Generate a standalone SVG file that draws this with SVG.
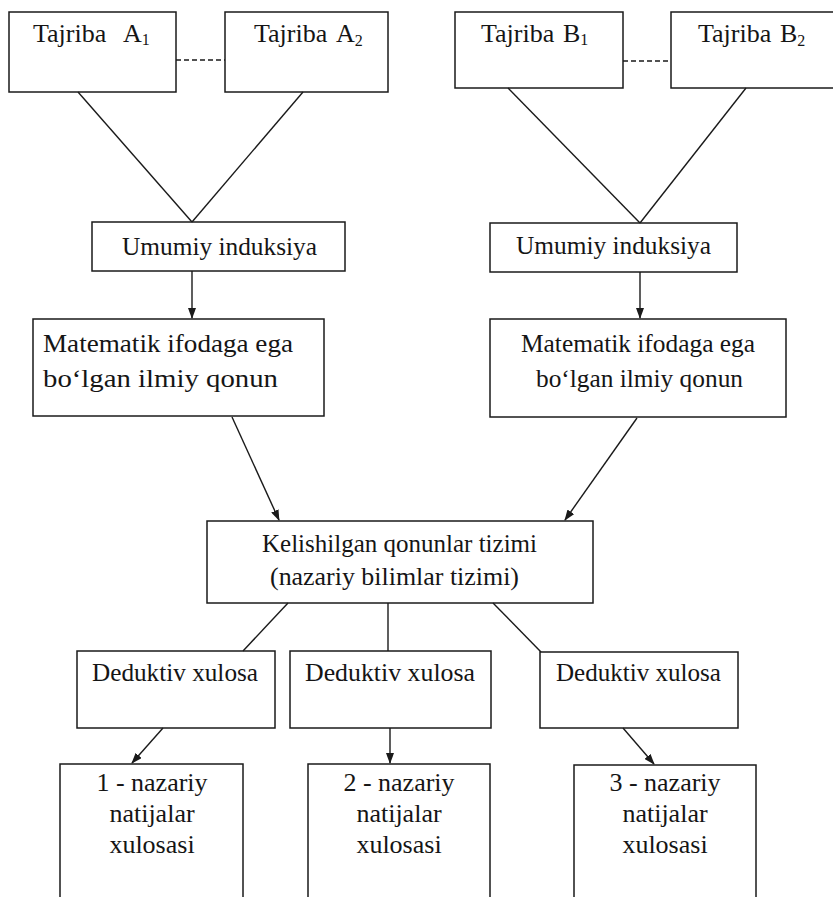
<svg xmlns="http://www.w3.org/2000/svg" width="833" height="897" viewBox="0 0 833 897">
<style>
.box{fill:none;stroke:#1a1a1a;stroke-width:1.5}
.ln{fill:none;stroke:#1a1a1a;stroke-width:1.4}
.dash{fill:none;stroke:#1a1a1a;stroke-width:1.4;stroke-dasharray:5,3}
text{font-family:"Liberation Serif","Times New Roman",serif;font-size:26px;fill:#151515}
.sub{font-size:16px}
.c{text-anchor:middle}
</style>
<defs>
<marker id="ah" markerUnits="userSpaceOnUse" markerWidth="11" markerHeight="8" refX="10" refY="4" orient="auto">
<path d="M0,0 L11,4 L0,8 Z" fill="#1a1a1a"/>
</marker>
</defs>
<rect width="833" height="897" fill="#ffffff"/>
<g id="connectors">
<line class="dash" x1="176" y1="60" x2="225" y2="60"/>
<line class="dash" x1="623" y1="61" x2="671" y2="61"/>
<line class="ln" x1="78" y1="92" x2="192" y2="222"/>
<line class="ln" x1="303" y1="92" x2="192" y2="222"/>
<line class="ln" x1="508" y1="88" x2="640" y2="223"/>
<line class="ln" x1="746" y1="88" x2="640" y2="223"/>
<line class="ln" x1="192" y1="271" x2="192" y2="318" marker-end="url(#ah)"/>
<line class="ln" x1="640" y1="272" x2="640" y2="318" marker-end="url(#ah)"/>
<line class="ln" x1="232" y1="417" x2="279" y2="520" marker-end="url(#ah)"/>
<line class="ln" x1="637" y1="418" x2="565" y2="520" marker-end="url(#ah)"/>
<line class="ln" x1="288" y1="603" x2="243" y2="651"/>
<line class="ln" x1="388" y1="603" x2="388" y2="651"/>
<line class="ln" x1="493" y1="603" x2="541" y2="652"/>
<line class="ln" x1="163" y1="728" x2="132" y2="763" marker-end="url(#ah)"/>
<line class="ln" x1="390" y1="728" x2="390" y2="763" marker-end="url(#ah)"/>
<line class="ln" x1="623" y1="728" x2="654" y2="764" marker-end="url(#ah)"/>
</g>
<g id="tajriba-a1">
<rect class="box" x="9" y="12" width="167" height="80"/>
<text x="33" y="42">Tajriba <tspan x="123">A</tspan><tspan class="sub" dy="3">1</tspan></text>
</g>
<g id="tajriba-a2">
<rect class="box" x="225" y="12" width="163" height="80"/>
<text x="254" y="42">Tajriba <tspan x="336">A</tspan><tspan class="sub" dy="4">2</tspan></text>
</g>
<g id="tajriba-b1">
<rect class="box" x="455" y="12" width="168" height="76"/>
<text x="481" y="42">Tajriba <tspan x="563">B</tspan><tspan class="sub" dy="3">1</tspan></text>
</g>
<g id="tajriba-b2">
<rect class="box" x="671" y="12" width="175" height="76"/>
<text x="698" y="42">Tajriba <tspan x="780">B</tspan><tspan class="sub" dy="4">2</tspan></text>
</g>
<g id="induksiya-left">
<rect class="box" x="92" y="222" width="253" height="49"/>
<text x="122" y="255" textLength="195" lengthAdjust="spacingAndGlyphs">Umumiy induksiya</text>
</g>
<g id="induksiya-right">
<rect class="box" x="490" y="223" width="247" height="49"/>
<text x="516" y="254" textLength="195" lengthAdjust="spacingAndGlyphs">Umumiy induksiya</text>
</g>
<g id="qonun-left">
<rect class="box" x="33" y="319" width="291" height="97"/>
<text x="43" y="352" textLength="250" lengthAdjust="spacingAndGlyphs">Matematik ifodaga ega</text>
<text x="43" y="387" textLength="235" lengthAdjust="spacingAndGlyphs">bo‘lgan ilmiy qonun</text>
</g>
<g id="qonun-right">
<rect class="box" x="490" y="319" width="296" height="98"/>
<text x="521" y="352" textLength="234" lengthAdjust="spacingAndGlyphs">Matematik ifodaga ega</text>
<text x="536" y="387" textLength="207" lengthAdjust="spacingAndGlyphs">bo‘lgan ilmiy qonun</text>
</g>
<g id="tizim">
<rect class="box" x="207" y="521" width="386" height="82"/>
<text x="262" y="552" textLength="275" lengthAdjust="spacingAndGlyphs">Kelishilgan qonunlar tizimi</text>
<text x="270" y="585" textLength="249" lengthAdjust="spacingAndGlyphs">(nazariy bilimlar tizimi)</text>
</g>
<g id="deduktiv-1">
<rect class="box" x="77" y="651" width="198" height="77"/>
<text x="92" y="681" textLength="166" lengthAdjust="spacingAndGlyphs">Deduktiv xulosa</text>
</g>
<g id="deduktiv-2">
<rect class="box" x="290" y="651" width="201" height="77"/>
<text x="305" y="681" textLength="170" lengthAdjust="spacingAndGlyphs">Deduktiv xulosa</text>
</g>
<g id="deduktiv-3">
<rect class="box" x="540" y="652" width="198" height="76"/>
<text x="556" y="681" textLength="165" lengthAdjust="spacingAndGlyphs">Deduktiv xulosa</text>
</g>
<g id="natija-1">
<rect class="box" x="60" y="764" width="183" height="150"/>
<text class="c" x="152" y="791">1 - nazariy</text>
<text class="c" x="152" y="822">natijalar</text>
<text class="c" x="152" y="853">xulosasi</text>
</g>
<g id="natija-2">
<rect class="box" x="308" y="764" width="182" height="150"/>
<text class="c" x="399" y="791">2 - nazariy</text>
<text class="c" x="399" y="822">natijalar</text>
<text class="c" x="399" y="853">xulosasi</text>
</g>
<g id="natija-3">
<rect class="box" x="574" y="765" width="182" height="150"/>
<text class="c" x="665" y="791">3 - nazariy</text>
<text class="c" x="665" y="822">natijalar</text>
<text class="c" x="665" y="853">xulosasi</text>
</g>
</svg>
